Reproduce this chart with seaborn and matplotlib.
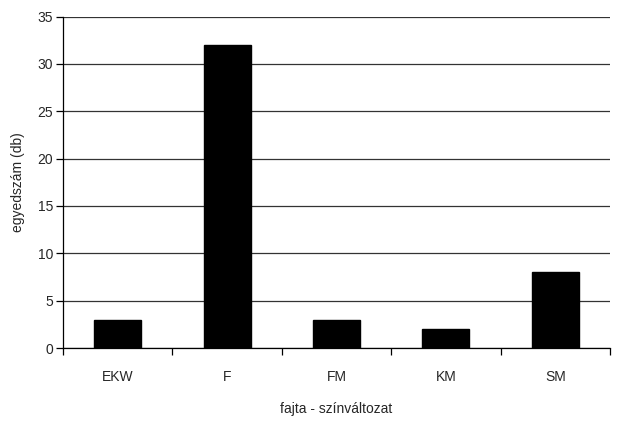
import matplotlib
matplotlib.use("Agg")
import matplotlib.pyplot as plt
import seaborn as sns
import pandas as pd
import numpy as np

categories = ["EKW", "F", "FM", "KM", "SM"]
values = [3, 32, 3, 2, 8]

sns.set_style("white")
plt.rcParams['font.family'] = ['Liberation Sans', 'DejaVu Sans']
fs = 10

df = pd.DataFrame({"cat": categories, "val": values})

fig = plt.figure(figsize=(6.21, 4.21), dpi=100)
ax = fig.add_axes([63/621, 1-348/421, (610-63)/621, (348-16.5)/421])

sns.barplot(data=df, x="cat", y="val", color="black", width=0.43,
            saturation=1, ax=ax, edgecolor="black")

ax.set_ylim(0, 35)
ax.set_xlim(-0.5, len(categories)-0.5)
ax.set_yticks(np.arange(0, 36, 5))
ax.yaxis.grid(True, color="#333333", linewidth=0.9)
ax.set_axisbelow(True)

ax.set_xticks(np.arange(-0.5, len(categories), 1.0))
ax.set_xticklabels([])
ax.set_xticks(np.arange(len(categories)), minor=True)
ax.set_xticklabels(categories, minor=True)
ax.tick_params(axis="x", which="major", direction="out", length=5, width=0.9, color="black", bottom=True)
ax.tick_params(axis="x", which="minor", length=0, pad=16, labelsize=fs)
ax.tick_params(axis="y", direction="out", length=5, width=0.9, color="black", left=True, labelsize=fs, pad=2)

for s in ["top", "right"]:
    ax.spines[s].set_visible(False)
for s in ["left", "bottom"]:
    ax.spines[s].set_color("black")
    ax.spines[s].set_linewidth(0.9)

ax.set_xlabel("fajta - színváltozat", fontsize=fs, labelpad=13)
ax.set_ylabel("egyedszám (db)", fontsize=fs, labelpad=9)

fig.savefig("out.png", dpi=100)
